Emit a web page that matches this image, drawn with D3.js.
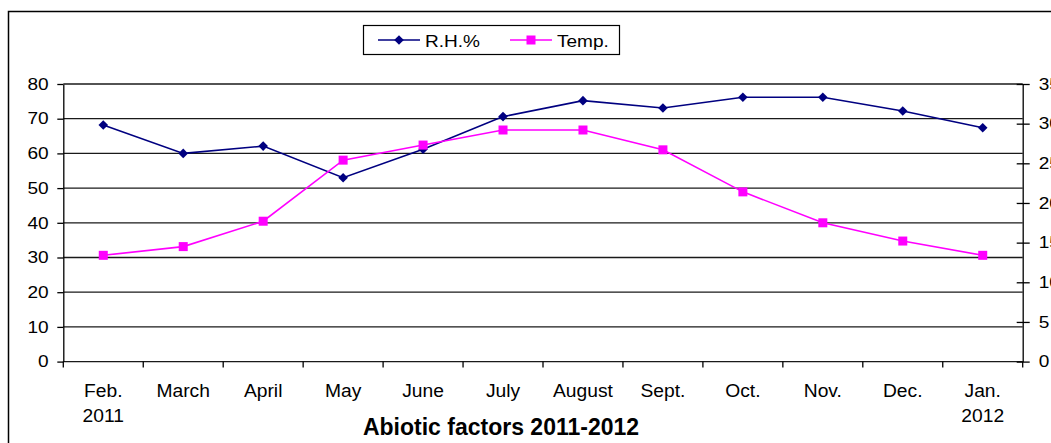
<!DOCTYPE html>
<html><head><meta charset="utf-8">
<script src="https://cdn.jsdelivr.net/npm/d3@7"></script>
<style>body{margin:0;background:#fff}svg{display:block}text{font-family:"Liberation Sans",Arial,sans-serif;fill:#000}</style>
</head><body>
<script>
const months = ["Feb.", "March", "April", "May", "June", "July", "August", "Sept.", "Oct.", "Nov.", "Dec.", "Jan."];
const subLabels = ["2011", "", "", "", "", "", "", "", "", "", "", "2012"];
const rh = [68.2, 60.0, 62.1, 53.0, 61.2, 70.6, 75.2, 73.1, 76.2, 76.2, 72.2, 67.4];
const temp = [13.4, 14.5, 17.7, 25.4, 27.3, 29.2, 29.2, 26.7, 21.4, 17.5, 15.2, 13.4];
const leftTicks = [0, 10, 20, 30, 40, 50, 60, 70, 80];
const rightTicks = [0, 5, 10, 15, 20, 25, 30, 35];
const seriesNames = ["R.H.%", "Temp."];
const title = "Abiotic factors 2011-2012";

const W = 1051, H = 443;
const L = 63.3, R = 1022.7, T = 84, B = 361.6;
const svg = d3.select("body").append("svg").attr("width", W).attr("height", H);
svg.append("rect").attr("width", W).attr("height", H).attr("fill", "#fff");
svg.append("rect").attr("x", 8.5).attr("y", 11.5).attr("width", 1200).attr("height", 600)
  .attr("fill", "none").attr("stroke", "#000").attr("stroke-width", 1.5);

function stretch(sel, k) {
  sel.each(function () {
    const l = this.getComputedTextLength();
    this.setAttribute("textLength", l * k);
    this.setAttribute("lengthAdjust", "spacingAndGlyphs");
  });
}

const x = d3.scaleBand().domain(months).range([L, R]);
const xc = d => x(d) + x.bandwidth() / 2;
const yL = d3.scaleLinear().domain([0, 80]).range([B, T]);
const yR = d3.scaleLinear().domain([0, 35]).range([B, T]);

// gridlines
svg.append("g").selectAll("line").data(leftTicks).join("line")
  .attr("x1", L).attr("x2", R).attr("y1", d => yL(d)).attr("y2", d => yL(d))
  .attr("stroke", "#1a1a1a").attr("stroke-width", 1.3);

// left axis
const gl = svg.append("g").attr("transform", `translate(${L},0)`)
  .call(d3.axisLeft(yL).tickValues(leftTicks).tickSizeInner(6).tickSizeOuter(0).tickPadding(9));
gl.select(".domain").attr("stroke", "#000").attr("stroke-width", 1.3);
gl.selectAll(".tick line").attr("stroke", "#000").attr("stroke-width", 1.3);
gl.selectAll(".tick text").attr("font-size", 16.3).attr("font-family", "Liberation Sans, Arial, sans-serif")
  .attr("x", -14.6).call(stretch, 1.17);

// right axis
const gr = svg.append("g").attr("transform", `translate(${R},0)`)
  .call(d3.axisRight(yR).tickValues(rightTicks).tickSizeInner(7).tickSizeOuter(0).tickPadding(9));
gr.select(".domain").attr("stroke", "#000").attr("stroke-width", 1.3);
gr.selectAll(".tick line").attr("x1", -6).attr("x2", 7).attr("stroke", "#000").attr("stroke-width", 1.3);
gr.selectAll(".tick text").attr("font-size", 16.3).attr("font-family", "Liberation Sans, Arial, sans-serif")
  .attr("x", 16).call(stretch, 1.17);

// x ticks at category boundaries
const bounds = months.map(d => x(d)).concat([x.range()[1]]);
svg.append("g").selectAll("line").data(bounds).join("line")
  .attr("x1", d => d).attr("x2", d => d).attr("y1", B).attr("y2", B + 6)
  .attr("stroke", "#000").attr("stroke-width", 1.3);

// x labels
svg.append("g").selectAll("text").data(months).join("text")
  .attr("x", d => xc(d)).attr("y", 397).attr("text-anchor", "middle")
  .attr("font-size", 17.5).text(d => d).call(stretch, 1.1);
svg.append("g").selectAll("text").data(months.filter((d, i) => subLabels[i])).join("text")
  .attr("x", d => xc(d)).attr("y", 422).attr("text-anchor", "middle")
  .attr("font-size", 17.5).text(d => subLabels[months.indexOf(d)]).call(stretch, 1.1);

// title
svg.append("text").attr("x", 501).attr("y", 435).attr("text-anchor", "middle")
  .attr("font-size", 23).attr("font-weight", "bold").text(title);

const diamond = r => `M0,${-r}L${r},0L0,${r}L${-r},0Z`;

// RH series
const lineL = d3.line().x((d, i) => xc(months[i])).y(d => yL(d));
svg.append("path").datum(rh).attr("d", lineL).attr("fill", "none")
  .attr("stroke", "#000080").attr("stroke-width", 1.6);
svg.append("g").selectAll("path").data(rh).join("path")
  .attr("transform", (d, i) => `translate(${xc(months[i])},${yL(d)})`)
  .attr("d", diamond(4.8)).attr("fill", "#000080");

// Temp series
const lineR = d3.line().x((d, i) => xc(months[i])).y(d => yR(d));
svg.append("path").datum(temp).attr("d", lineR).attr("fill", "none")
  .attr("stroke", "#FF00FF").attr("stroke-width", 1.6);
svg.append("g").selectAll("rect").data(temp).join("rect")
  .attr("x", (d, i) => xc(months[i]) - 4.5).attr("y", d => yR(d) - 4.5)
  .attr("width", 9).attr("height", 9).attr("fill", "#FF00FF");

// legend
const lg = svg.append("g");
lg.append("rect").attr("x", 363.5).attr("y", 25.5).attr("width", 256).attr("height", 29)
  .attr("fill", "#fff").attr("stroke", "#000").attr("stroke-width", 1.2);
lg.append("line").attr("x1", 378).attr("x2", 420).attr("y1", 40).attr("y2", 40)
  .attr("stroke", "#000080").attr("stroke-width", 1.6);
lg.append("path").attr("transform", "translate(399,40)").attr("d", diamond(4.8)).attr("fill", "#000080");
lg.append("text").attr("x", 425).attr("y", 46.5).attr("font-size", 16.3).text(seriesNames[0]).call(stretch, 1.17);
lg.append("line").attr("x1", 510).attr("x2", 552).attr("y1", 40).attr("y2", 40)
  .attr("stroke", "#FF00FF").attr("stroke-width", 1.6);
lg.append("rect").attr("x", 526.5).attr("y", 35.5).attr("width", 9).attr("height", 9).attr("fill", "#FF00FF");
lg.append("text").attr("x", 557).attr("y", 46.5).attr("font-size", 16.3).text(seriesNames[1]).call(stretch, 1.17);
</script>
</body></html>
